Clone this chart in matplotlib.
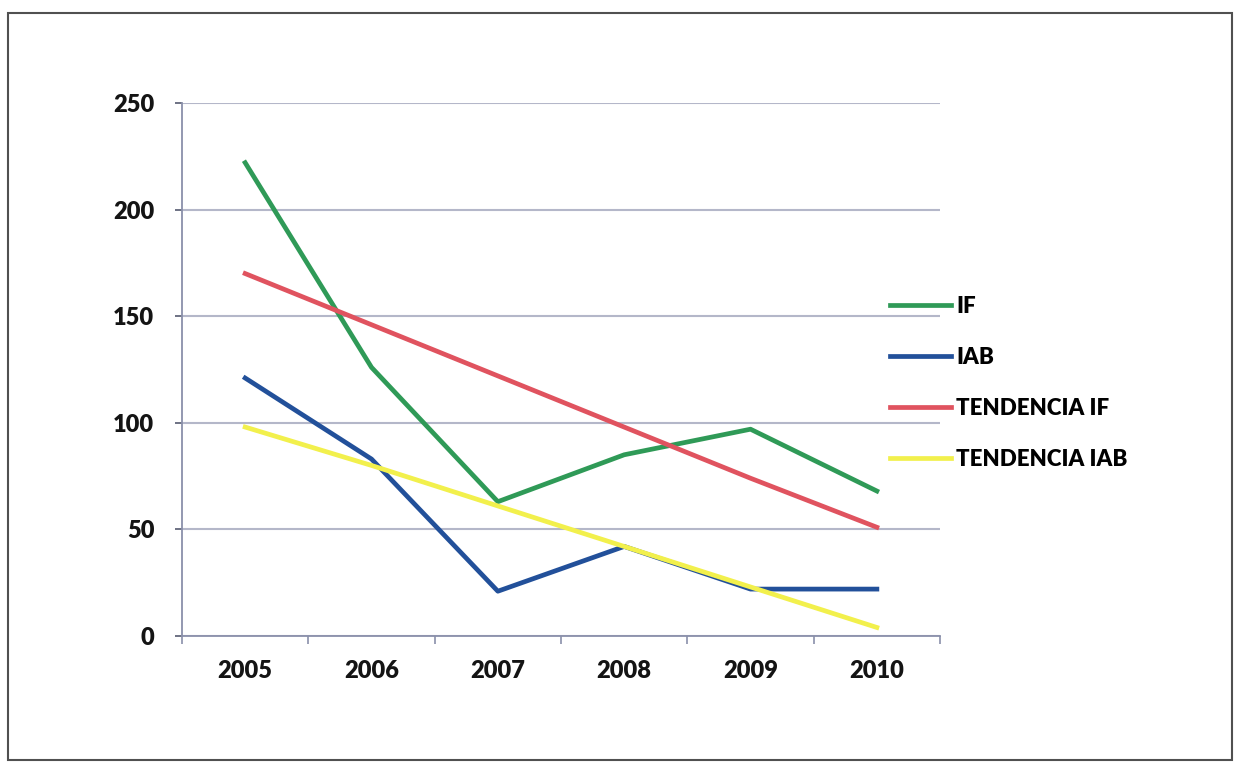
import matplotlib
matplotlib.use("Agg")
import matplotlib.pyplot as plt
from matplotlib.patches import Rectangle

years = ["2005", "2006", "2007", "2008", "2009", "2010"]
if_vals = [222, 126, 63, 85, 97, 68]
iab_vals = [121, 83, 21, 42, 22, 22]
trend_if = [170, 146, 122, 98, 74, 51]
trend_iab = [98, 80, 61, 42, 23, 4]
y_ticks = [0, 50, 100, 150, 200, 250]

plt.rcParams["font.family"] = ["Lato", "DejaVu Sans"]
plt.rcParams["font.weight"] = "heavy"

fig = plt.figure(figsize=(12.39, 7.67), dpi=100)
ax = fig.add_axes([0.1469, 0.1708, 0.6118, 0.6949])

x = list(range(len(years)))
ax.plot(x, if_vals, color="#2f9a57", lw=3.4, label="IF")
ax.plot(x, iab_vals, color="#22509a", lw=3.4, label="IAB")
ax.plot(x, trend_if, color="#e0535f", lw=3.4, label="TENDENCIA IF")
ax.plot(x, trend_iab, color="#f2f04c", lw=3.4, label="TENDENCIA IAB")

ax.set_xlim(-0.5, len(years) - 0.5)
ax.set_ylim(0, 250)
ax.set_yticks(y_ticks)
ax.set_yticklabels([str(v) for v in y_ticks])
ax.set_xticks(x)
ax.set_xticklabels(years)
ax.set_xticks([i - 0.5 for i in range(len(years) + 1)], minor=True)

ax.yaxis.grid(True, color="#b4b7c9", lw=1.5)
ax.set_axisbelow(True)
for side in ["top", "right"]:
    ax.spines[side].set_visible(False)
for side in ["left", "bottom"]:
    ax.spines[side].set_color("#8a90aa")
    ax.spines[side].set_linewidth(1.3)

ax.tick_params(axis="y", length=5, width=1.2, color="#555a70", pad=15,
               labelsize=17, labelcolor="#141414")
ax.tick_params(axis="x", which="major", length=0, pad=17,
               labelsize=17, labelcolor="#141414")
ax.tick_params(axis="x", which="minor", length=6, width=1.2, color="#8a90aa")

fig.legend(loc="center left", bbox_to_anchor=(0.718, 0.5006), frameon=False,
           fontsize=16, handlelength=2.75, handletextpad=0.25, labelspacing=1.35,
           borderpad=0, borderaxespad=0)

fig.patches.append(Rectangle((8 / 1239, 1 - 760 / 767), 1224 / 1239, 747 / 767,
                             transform=fig.transFigure, fill=False,
                             edgecolor="#505050", lw=1.5))

fig.savefig("out.png", dpi=100)
